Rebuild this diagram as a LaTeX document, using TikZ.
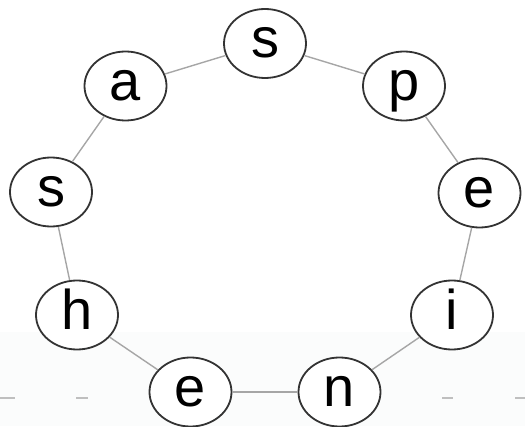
\documentclass[tikz,border=0pt]{standalone}
\usepackage{fontspec}
\setmainfont{Liberation Sans}
\usetikzlibrary{shapes.geometric}
\definecolor{band}{RGB}{251,252,252}
\begin{document}
\begin{tikzpicture}[x=1pt,y=1pt,
  letter/.style={ellipse,draw=black!80,line width=1.8pt,fill=white,minimum width=82pt,minimum height=69pt,inner sep=0pt,text height=29pt,text depth=0pt,font=\fontsize{56}{56}\selectfont},
  link/.style={draw=black!35,line width=1.4pt},
  tick/.style={draw=black!25,line width=1.2pt}]
\useasboundingbox (0,0) rectangle (525,426);
\fill[band] (0,0) rectangle (525,94);
\node[letter] (s1) at (265,382.5) {s};
\node[letter] (p)  at (404,340) {p};
\node[letter] (e1) at (479.5,233) {e};
\node[letter] (i)  at (452,111) {i};
\node[letter] (n)  at (339.5,34) {n};
\node[letter] (e2) at (190.5,34) {e};
\node[letter] (h)  at (77,111) {h};
\node[letter] (s2) at (51,234) {s};
\node[letter] (a)  at (125.5,340) {a};
\coordinate (d1a) at (0,28); \coordinate (d1b) at (15,28);
\coordinate (d2a) at (76,28); \coordinate (d2b) at (88,28);
\coordinate (d3a) at (442,28); \coordinate (d3b) at (453,28);
\coordinate (d4a) at (515,28); \coordinate (d4b) at (525,28);
\draw[tick] (d1a) -- (d1b);
\draw[tick] (d2a) -- (d2b);
\draw[tick] (d3a) -- (d3b);
\draw[tick] (d4a) -- (d4b);
\draw[link] (s1) -- (p);
\draw[link] (p) -- (e1);
\draw[link] (e1) -- (i);
\draw[link] (i) -- (n);
\draw[link] (n) -- (e2);
\draw[link] (e2) -- (h);
\draw[link] (h) -- (s2);
\draw[link] (s2) -- (a);
\draw[link] (a) -- (s1);
\end{tikzpicture}
\end{document}
